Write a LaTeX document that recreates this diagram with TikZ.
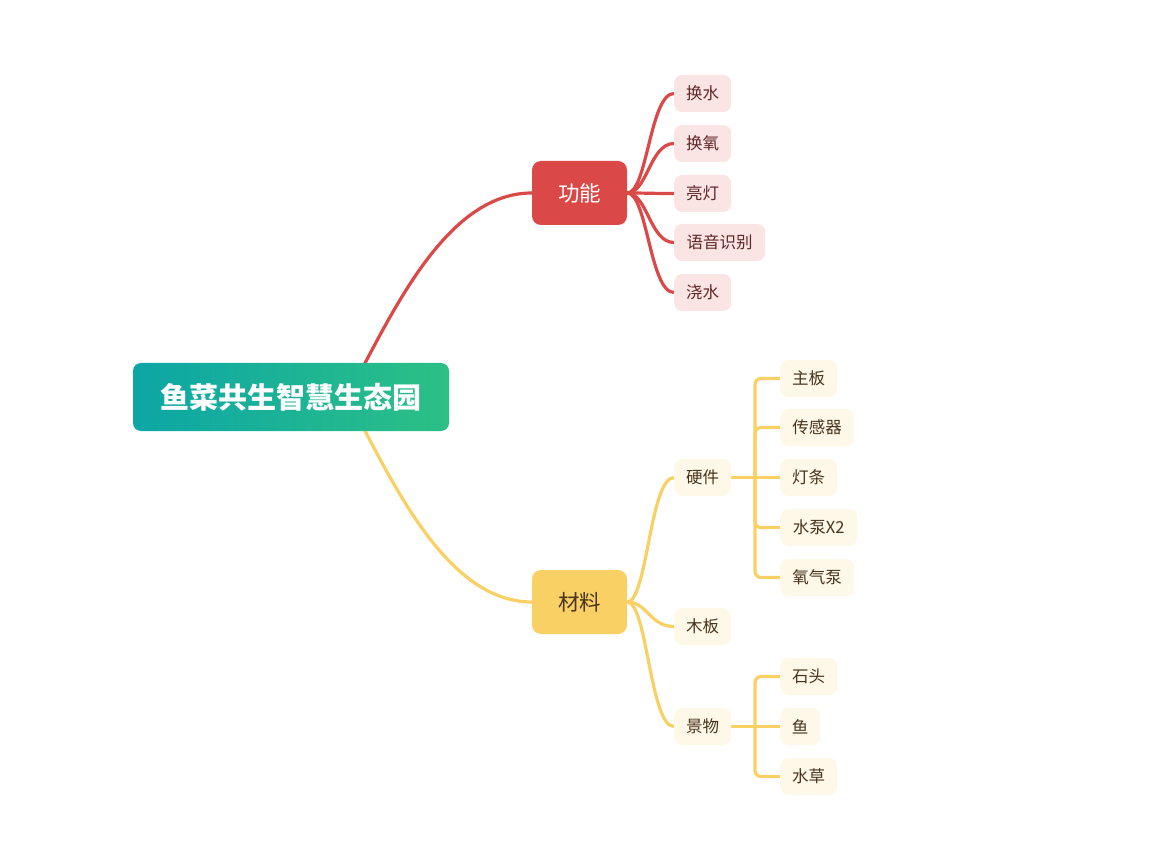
\documentclass[tikz,border=0pt]{standalone}
\usepackage{fontspec}
\newfontfamily\cjk{Noto Sans CJK SC}
\usetikzlibrary{backgrounds}
\definecolor{myred}{RGB}{219,72,72}
\definecolor{mypink}{RGB}{250,228,228}
\definecolor{myredtext}{RGB}{95,38,38}
\definecolor{myyellow}{RGB}{249,208,100}
\definecolor{mycream}{RGB}{254,248,232}
\definecolor{mybrown}{RGB}{72,52,30}
\definecolor{myteal}{RGB}{12,166,166}
\definecolor{mygreen}{RGB}{44,192,133}
\tikzset{
  rootbox/.style={rounded corners=8pt, minimum width=316pt, minimum height=68pt, inner sep=0pt,
    left color=myteal, right color=mygreen, text=white,
    font=\cjk\bfseries\fontsize{29}{33}\selectfont},
  topic/.style={rounded corners=9pt, minimum width=95pt, minimum height=64pt, inner sep=0pt,
    font=\cjk\fontsize{21.5}{25}\selectfont},
  leaf/.style={rounded corners=8pt, minimum width=57pt, minimum height=37pt, inner sep=0pt,
    anchor=west, font=\cjk\fontsize{16.5}{19}\selectfont},
  redleaf/.style={leaf, fill=mypink, text=myredtext},
  yellowleaf/.style={leaf, fill=mycream, text=mybrown},
  redlink/.style={draw=myred, line width=3.2pt},
  yellowlink/.style={draw=myyellow, line width=3.2pt}
}

\begin{document}
\begin{tikzpicture}[x=1pt,y=-1pt]
\useasboundingbox (0,0) rectangle (1170,866);

%the topics:
\node[rootbox] (root) at (291,397) {鱼菜共生智慧生态园};
\node[topic, fill=myred, text=white] (gongneng) at (579.5,193) {功能};
\node[topic, fill=myyellow, text=mybrown] (cailiao) at (579.5,602) {材料};

%functions:
\node[redleaf] (huanshui) at (674,93.5) {换水};
\node[redleaf] (huanyang) at (674,143.5) {换氧};
\node[redleaf] (liangdeng) at (674,193.5) {亮灯};
\node[redleaf, minimum width=91pt] (yuyin) at (674,242.5) {语音识别};
\node[redleaf] (jiaoshui) at (674,292.5) {浇水};

%materials:
\node[yellowleaf] (yingjian) at (674,477.5) {硬件};
\node[yellowleaf] (muban) at (674,626.5) {木板};
\node[yellowleaf] (jingwu) at (674,726.5) {景物};

\node[yellowleaf] (zhuban) at (780,378.5) {主板};
\node[yellowleaf, minimum width=74pt] (chuanganqi) at (780,427.5) {传感器};
\node[yellowleaf] (dengtiao) at (780,477.5) {灯条};
\node[yellowleaf, minimum width=77pt] (shuibeng) at (780,527.5) {水泵X2};
\node[yellowleaf, minimum width=74pt] (yangqibeng) at (780,577.5) {氧气泵};

\node[yellowleaf] (shitou) at (780,676.5) {石头};
\node[yellowleaf, minimum width=40pt] (yu) at (780,726.5) {鱼};
\node[yellowleaf] (shuicao) at (780,776.5) {水草};

\coordinate (hw) at (755,477.5);
\coordinate (jw) at (755,726.5);

\begin{scope}[on background layer]
\draw[redlink] (340,410) .. controls (385,330) and (440,193) .. (gongneng.west);
\draw[yellowlink] (340,384) .. controls (385,464) and (440,602) .. (cailiao.west);
\foreach \n in {huanshui,huanyang,liangdeng,yuyin,jiaoshui}
  \draw[redlink] (gongneng.east) .. controls +(20,0) and +(-24,0) .. (\n.west);
\foreach \n in {yingjian,muban,jingwu}
  \draw[yellowlink] (cailiao.east) .. controls +(20,0) and +(-24,0) .. (\n.west);
\draw[yellowlink] (yingjian.east) -- (dengtiao.west);
\foreach \n in {zhuban,chuanganqi,shuibeng,yangqibeng}
  \draw[yellowlink, rounded corners=6pt] (hw) |- (\n.west);
\draw[yellowlink] (jingwu.east) -- (yu.west);
\foreach \n in {shitou,shuicao}
  \draw[yellowlink, rounded corners=6pt] (jw) |- (\n.west);
\end{scope}
\end{tikzpicture}
\end{document}
